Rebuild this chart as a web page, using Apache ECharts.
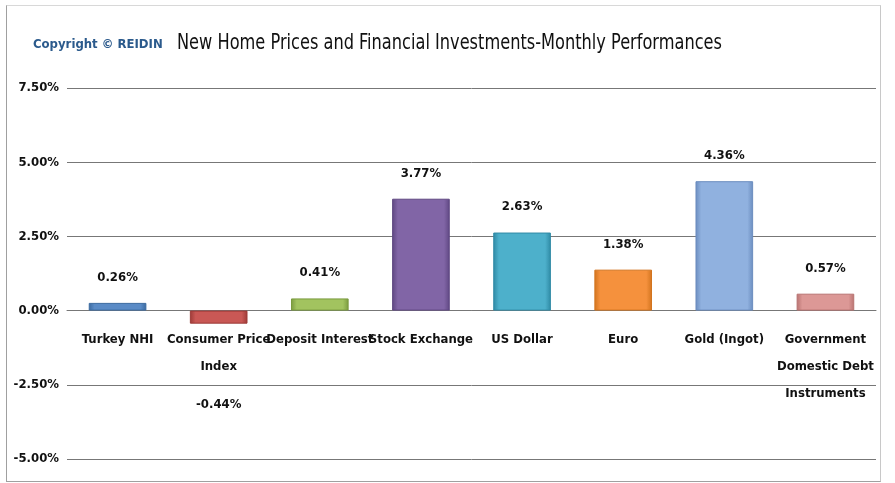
<!DOCTYPE html>
<html>
<head>
<meta charset="utf-8">
<script src="https://cdn.jsdelivr.net/npm/echarts@6/dist/echarts.min.js"></script>
<style>
  html, body { margin:0; padding:0; background:#fff; }
  #frame { position:absolute; left:6px; top:5px; width:873px; height:475px;
           border:1.5px solid #a0a0a0; border-top-color:#d8d8d8; border-right-color:#c8c8c8; }
  #chart { position:absolute; left:0; top:0; width:895px; height:483px; }
</style>
</head>
<body>
<div id="frame"></div>
<div id="chart"></div>
<script>
const categories = ["Turkey NHI", "Consumer Price\nIndex", "Deposit Interest", "Stock Exchange",
                    "US Dollar", "Euro", "Gold (Ingot)", "Government\nDomestic Debt\nInstruments"];
const values = [0.26, -0.44, 0.41, 3.77, 2.63, 1.38, 4.36, 0.57];
const yTicks = [-5, -2.5, 0, 2.5, 5, 7.5];

// bar colours (edge, middle) for a bevelled look
const barColors = [
  ["#3b6aa0", "#5a8bc6"],
  ["#9c3a37", "#c95855"],
  ["#7a9a3e", "#a2c35f"],
  ["#5f4782", "#8165a6"],
  ["#2f8aa5", "#4db0cb"],
  ["#d2741f", "#f5913d"],
  ["#6b8dbf", "#90b1df"],
  ["#b87371", "#dc9896"]
];

const FONT = "'DejaVu Sans Condensed', 'Liberation Sans', sans-serif";
const Y_MIN = -5, Y_MAX = 7.5;
const GRID_TOP = 88, GRID_BOTTOM = 24, H = 483;

function grad(c){
  return new echarts.graphic.LinearGradient(0, 0, 1, 0, [
    {offset:0, color:c[0]}, {offset:0.1, color:c[1]},
    {offset:0.9, color:c[1]}, {offset:1, color:c[0]}
  ]);
}

// move the category axis up to the zero line
const plotH = H - GRID_TOP - GRID_BOTTOM;
const zeroOffset = -plotH * (0 - Y_MIN) / (Y_MAX - Y_MIN);

const chart = echarts.init(document.getElementById("chart"));

chart.setOption({
  animation: false,
  textStyle: { fontFamily: FONT },
  graphic: [
    { type:"text", left:33, top:38,
      style:{ text:"Copyright © REIDIN", fill:"#2b5a8c", font:"bold 13px " + FONT } },
    { type:"text", x:177, y:33, scaleY:1.18,
      style:{ text:"New Home Prices and Financial Investments-Monthly Performances", fill:"#111", font:"18px " + FONT } }
  ],
  grid: { left:67, right:19, top:GRID_TOP, bottom:GRID_BOTTOM, outerBoundsMode:"none", containLabel:false },
  xAxis: {
    type:"category",
    data: categories,
    offset: zeroOffset,
    axisLine: { onZero:false, lineStyle:{ color:"#777", width:1 } },
    axisTick: { show:false },
    axisLabel: { interval:0, color:"#111", fontWeight:"bold", fontSize:13, lineHeight:27, margin:16, fontFamily: FONT }
  },
  yAxis: {
    type:"value",
    min:Y_MIN, max:Y_MAX, interval:2.5,
    axisLine: { show:false },
    axisTick: { show:false },
    splitLine: { lineStyle:{ color:"#777", width:1 } },
    axisLabel: { color:"#111", fontWeight:"bold", fontSize:13, margin:8, fontFamily: FONT,
                 formatter: v => yTicks.includes(v) ? v.toFixed(2) + "%" : "" }
  },
  series: [{
    type:"bar",
    barWidth:"57%",
    data: values.map((v, i) => ({
      value: v,
      itemStyle: { color: grad(barColors[i]), borderColor: barColors[i][0], borderWidth:1 },
      label: v < 0 ? { position:"bottom", distance:74 } : {}
    })),
    label: {
      show:true, position:"top", distance:19,
      color:"#111", fontWeight:"bold", fontSize:13, fontFamily: FONT,
      formatter: p => p.value.toFixed(2) + "%"
    }
  }]
});
</script>
</body>
</html>
